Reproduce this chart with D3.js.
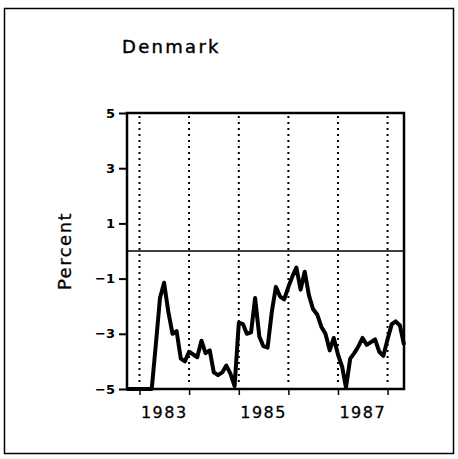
<!DOCTYPE html>
<html>
<head>
<meta charset="utf-8">
<script src="https://cdn.jsdelivr.net/npm/d3@7"></script>
<style>
  body { margin: 0; background: #fff; }
  svg { font-family: "DejaVu Sans", sans-serif; }
</style>
</head>
<body>
<svg id="chart" width="458" height="459"></svg>
<script>
// data (monthly, Oct 1982 - May 1988)
var months = [
  "1982-10", "1982-11", "1982-12",
  "1983-01", "1983-02", "1983-03", "1983-04", "1983-05", "1983-06", "1983-07", "1983-08", "1983-09", "1983-10", "1983-11", "1983-12",
  "1984-01", "1984-02", "1984-03", "1984-04", "1984-05", "1984-06", "1984-07", "1984-08", "1984-09", "1984-10", "1984-11", "1984-12",
  "1985-01", "1985-02", "1985-03", "1985-04", "1985-05", "1985-06", "1985-07", "1985-08", "1985-09", "1985-10", "1985-11", "1985-12",
  "1986-01", "1986-02", "1986-03", "1986-04", "1986-05", "1986-06", "1986-07", "1986-08", "1986-09", "1986-10", "1986-11", "1986-12",
  "1987-01", "1987-02", "1987-03", "1987-04", "1987-05", "1987-06", "1987-07", "1987-08", "1987-09", "1987-10", "1987-11", "1987-12",
  "1988-01", "1988-02", "1988-03", "1988-04", "1988-05"
]
var percent = [
  -5, -5, -5,
  -5, -5, -5, -5, -3.4, -1.7, -1.15, -2.2, -3.0, -2.9, -3.9, -4.0,
  -3.65, -3.75, -3.85, -3.25, -3.7, -3.6, -4.4, -4.5, -4.4, -4.15, -4.45, -4.9,
  -2.6, -2.65, -3.0, -2.95, -1.7, -3.1, -3.45, -3.5, -2.2, -1.3, -1.65, -1.75,
  -1.3, -0.9, -0.6, -1.4, -0.75, -1.6, -2.1, -2.3, -2.75, -3.0, -3.6, -3.15,
  -3.75, -4.2, -4.95, -3.9, -3.7, -3.45, -3.15, -3.4, -3.3, -3.2, -3.65, -3.8,
  -3.2, -2.65, -2.55, -2.7, -3.4
]
var yTicks = [5, 3, 1, -1, -3, -5]
var yearTicks = ["1983-01", "1984-01", "1985-01", "1986-01", "1987-01", "1988-01"]
var yearLabels = [1983, 1985, 1987]

var parse = d3.timeParse("%Y-%m")
var data = months.map(function(m, i) { return { date: parse(m), value: percent[i] } })

var svg = d3.select("#chart")

// outer frame
svg.append("rect")
  .attr("x", 4.5).attr("y", 8.5)
  .attr("width", 449).attr("height", 445)
  .attr("fill", "none").attr("stroke", "#000").attr("stroke-width", 1.5)

// title
svg.append("text")
  .attr("x", 122).attr("y", 53)
  .style("font-size", "18px")
  .style("letter-spacing", "2.3px")
  .style("stroke", "#000").style("stroke-width", 0.4)
  .text("Denmark")

var plotLeft = 127, plotRight = 404, plotTop = 113, plotBottom = 389

var x = d3.scaleTime()
  .domain([data[0].date, data[data.length - 1].date])
  .range([plotLeft, plotRight])

var y = d3.scaleLinear()
  .domain([-5, 5])
  .range([plotBottom, plotTop])

// y axis
var yAxis = svg.append("g")
  .attr("transform", "translate(" + plotLeft + ",0)")
  .call(d3.axisLeft(y).tickValues(yTicks).tickSize(8).tickPadding(4)
    .tickFormat(function(d) { return d < 0 ? "\u2212" + Math.abs(d) : d }))
yAxis.select(".domain").remove()
yAxis.selectAll("line").attr("stroke-width", 2)
yAxis.selectAll("text")
  .style("font-size", "13px").style("font-weight", "bold")
  .attr("font-family", "DejaVu Sans")

// x axis ticks
var xAxis = svg.append("g")
  .attr("transform", "translate(0," + plotBottom + ")")
  .call(d3.axisBottom(x).tickValues(yearTicks.map(parse)).tickSize(6).tickFormat(""))
xAxis.select(".domain").remove()
xAxis.selectAll("line").attr("stroke-width", 1.5)

// year labels, centered within each year
svg.append("g")
  .selectAll("text")
  .data(yearLabels)
  .enter().append("text")
  .attr("x", function(d) { return (x(parse(d + "-01")) + x(parse((d + 1) + "-01"))) / 2 })
  .attr("y", 418)
  .attr("text-anchor", "middle")
  .style("font-size", "16px")
  .style("letter-spacing", "1.5px")
  .style("stroke", "#000").style("stroke-width", 0.3)
  .text(function(d) { return d })

// y label
svg.append("text")
  .attr("transform", "translate(71," + ((plotTop + plotBottom) / 2) + ") rotate(-90)")
  .attr("text-anchor", "middle")
  .style("font-size", "18px")
  .style("letter-spacing", "1.5px")
  .style("stroke", "#000").style("stroke-width", 0.3)
  .text("Percent")

// dotted year lines
svg.append("g")
  .selectAll("line")
  .data(yearTicks)
  .enter().append("line")
  .attr("x1", function(d) { return x(parse(d)) })
  .attr("x2", function(d) { return x(parse(d)) })
  .attr("y1", plotTop + 3).attr("y2", plotBottom - 6)
  .attr("stroke", "#000").attr("stroke-width", 2)
  .attr("stroke-dasharray", "2,4")

// zero line
svg.append("line")
  .attr("x1", plotLeft).attr("x2", plotRight)
  .attr("y1", y(0)).attr("y2", y(0))
  .attr("stroke", "#000").attr("stroke-width", 1.5)

// plot frame
svg.append("rect")
  .attr("x", plotLeft).attr("y", plotTop)
  .attr("width", plotRight - plotLeft).attr("height", plotBottom - plotTop)
  .attr("fill", "none").attr("stroke", "#000").attr("stroke-width", 2.5)

// series
var line = d3.line()
  .x(function(d) { return x(d.date) })
  .y(function(d) { return y(d.value) })

svg.append("path")
  .datum(data)
  .attr("d", line)
  .attr("fill", "none")
  .attr("stroke", "#000")
  .attr("stroke-width", 4)
  .attr("stroke-linejoin", "round")
</script>
</body>
</html>
